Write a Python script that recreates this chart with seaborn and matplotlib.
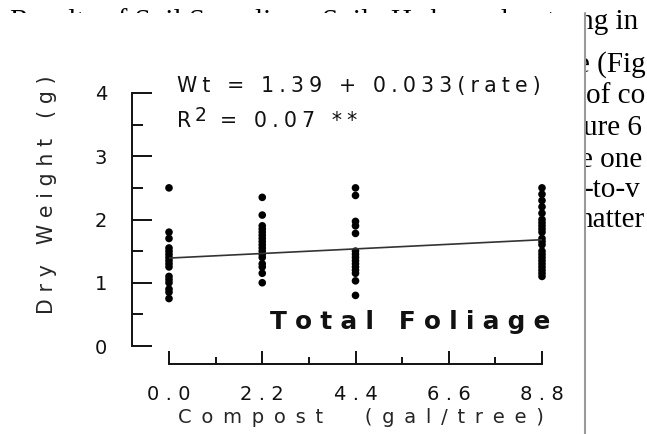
import matplotlib
matplotlib.use('Agg')
import matplotlib.pyplot as plt
from matplotlib.patches import Rectangle
from matplotlib.lines import Line2D
import numpy as np
import pandas as pd
import seaborn as sns

# Compost rate (gal/tree) and total foliage dry weight (g)
rate_levels = [0.0, 2.2, 4.4, 8.8]
wt_rate_00 = [2.5, 1.8, 1.7, 1.55, 1.5, 1.45, 1.4, 1.35, 1.3, 1.25, 1.1, 1.05, 1.0, 0.9, 0.85, 0.75]
wt_rate_22 = [2.35, 2.07, 1.9, 1.85, 1.8, 1.75, 1.7, 1.65, 1.6, 1.55, 1.5, 1.45, 1.4, 1.3, 1.25, 1.15, 1.0]
wt_rate_44 = [2.5, 2.38, 1.97, 1.9, 1.78, 1.5, 1.45, 1.4, 1.35, 1.3, 1.25, 1.2, 1.15, 1.03, 0.8]
wt_rate_88 = [2.5, 2.4, 2.3, 2.2, 2.1, 2.0, 1.95, 1.9, 1.85, 1.8, 1.7, 1.65, 1.6, 1.5,
              1.45, 1.4, 1.35, 1.3, 1.25, 1.2, 1.15, 1.1]

# regression reported on the figure
fit_intercept = 1.39
fit_slope = 0.033
r_squared = 0.07

x_ticks = [0.0, 2.2, 4.4, 6.6, 8.8]
x_minor = [1.1, 3.3, 5.5, 7.7]
x_tick_labels = ['0.0', '2.2', '4.4', '6.6', '8.8']
y_ticks = [0, 1, 2, 3, 4]
y_minor = [0.5, 1.5, 2.5, 3.5]
y_tick_labels = ['0', '1', '2', '3', '4']

# fragments of the report page around the pasted figure
page_top_line = 'Results of Soil Sampling.  Soil pH showed a strong in'
page_side_lines = ['e (Fig', 'of co', 'ure 6', 'e one', '-to-v', 'natter']

W, H = 647, 434
INK = '#111111'


def px(x, y):
    """pixel position (from top-left) -> figure fraction"""
    return x / W, 1 - y / H


def spaced(s, gap='\u2005'):
    """fake the wide letter spacing of the scanned labels"""
    return gap.join(s)


df = pd.DataFrame({
    'rate': np.concatenate([[r] * len(w) for r, w in
                            zip(rate_levels, [wt_rate_00, wt_rate_22, wt_rate_44, wt_rate_88])]),
    'wt': np.concatenate([wt_rate_00, wt_rate_22, wt_rate_44, wt_rate_88]),
})

fit_x = np.array([rate_levels[0], rate_levels[-1]])
fit_y = fit_intercept + fit_slope * fit_x

sns.set_style('ticks')
plt.rcParams['font.family'] = ['DejaVu Sans']
plt.rcParams['text.color'] = INK

fig = plt.figure(figsize=(W / 100, H / 100), dpi=100)
fig.patch.set_facecolor('white')

# page text underneath the figure
serif = ['Liberation Serif', 'DejaVu Serif']
fig.text(*px(10, 29), page_top_line, fontsize=21, family=serif, va='baseline',
         color='black', zorder=1)
side_x = [577, 586, 583, 580, 584, 578]
side_y = [72, 103, 135, 167, 197, 227]
for txt, sx, sy in zip(page_side_lines, side_x, side_y):
    fig.text(*px(sx, sy), txt, fontsize=21, family=serif, va='baseline',
             color='black', zorder=1)

# the pasted figure: white box with a grey right border
fig.add_artist(Rectangle((0, 0), 585 / W, 1 - 13 / H, transform=fig.transFigure,
                         facecolor='white', edgecolor='none', zorder=2))
fig.add_artist(Line2D([585 / W, 585 / W], [0, 1 - 13 / H], transform=fig.transFigure,
                      color='#9a9a9a', lw=1.5, zorder=2.5))

ax = fig.add_axes([169 / W, 1 - 346 / H, (542 - 169) / W, (346 - 93) / H])
ax.set_zorder(3)
ax.patch.set_alpha(0)

sns.scatterplot(data=df, x='rate', y='wt', color='black', s=30, edgecolor='none',
                clip_on=False, legend=False, ax=ax)
sns.lineplot(x=fit_x, y=fit_y, color='#333333', lw=1.2, ax=ax)

ax.set_xlim(0, 8.8)
ax.set_ylim(0, 4)
sns.despine(ax=ax)
ax.spines['left'].set_position(('outward', 26.6))
ax.spines['bottom'].set_position(('outward', 13))
for side in ['left', 'bottom']:
    ax.spines[side].set_linewidth(1.4)
    ax.spines[side].set_color(INK)

ax.set_xticks(x_ticks)
ax.set_xticklabels([spaced(t, '\u2004') for t in x_tick_labels])
ax.set_xticks(x_minor, minor=True)
ax.set_yticks(y_ticks)
ax.set_yticklabels(y_tick_labels)
ax.set_yticks(y_minor, minor=True)

ax.tick_params(axis='y', which='major', direction='in', length=14.4, width=1.4, pad=18,
               labelsize=14, color=INK, labelcolor=INK)
ax.tick_params(axis='y', which='minor', direction='in', length=7.9, width=1.4, color=INK)
ax.tick_params(axis='x', which='major', direction='in', length=9.6, width=1.4, pad=15,
               labelsize=14, color=INK, labelcolor=INK)
ax.tick_params(axis='x', which='minor', direction='in', length=5, width=1.4, color=INK)

ax.set_xlabel(spaced('Compost  (gal/tree)', '\u2002'), fontsize=14)
ax.xaxis.set_label_coords(0.515, -0.245)
ax.set_ylabel(spaced('Dry Weight (g)', '\u2004'), fontsize=14.8)
ax.yaxis.set_label_coords(-0.30, 0.597)

# equation and R^2 (the scan uses a full-size raised "2")
ax.text(0.19, 4.11, spaced(f'Wt = {fit_intercept:.2f} + {fit_slope:.3f}(rate)'),
        fontsize=14.8, ha='left', va='center')
ax.text(0.19, 3.55, 'R', fontsize=14.8, ha='left', va='center')
ax.annotate('2', xy=(0.19, 3.55), xytext=(13, 4.5), textcoords='offset points',
            fontsize=13.5, ha='left', va='center')
ax.annotate(spaced(f'= {r_squared:.2f} **'), xy=(0.19, 3.55), xytext=(31, 0),
            textcoords='offset points', fontsize=14.8, ha='left', va='center')

ax.text(5.68, 0.38, spaced('Total Foliage', '\u2004'), fontsize=17.8, fontweight='bold',
        ha='center', va='center')

fig.savefig('out.png', dpi=100)
